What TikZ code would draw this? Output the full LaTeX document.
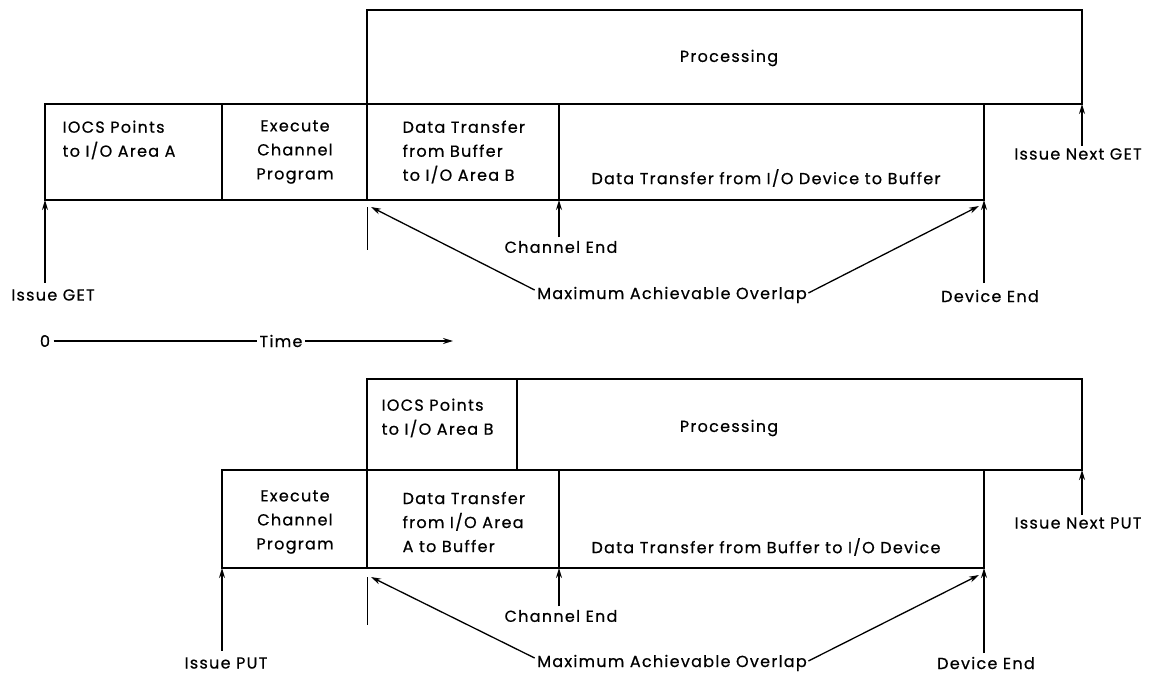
\documentclass[tikz,border=0pt]{standalone}
\usepackage{fontspec}
\setmainfont{Poppins}[LetterSpace=8,FakeBold=0.6]
\usetikzlibrary{arrows.meta,calc}
\begin{document}
\begin{tikzpicture}[x=1pt,y=-1pt,
  line width=1.3pt,
  box/.style={draw, rectangle, inner sep=0pt, outer sep=0pt, anchor=north west, minimum height=96pt},
  lbl/.style={inner sep=0pt, font=\fontsize{16}{24}\selectfont},
  arr/.style={-{Stealth[length=10pt,width=6pt]}},
  tick/.style={line width=1pt}]
\useasboundingbox (0,0) rectangle (1153,679);

% ---------------- GET ----------------
\node[box, minimum width=715pt, minimum height=94pt] (gp) at (367,10) {};
\node[box, minimum width=177pt] (g1) at (45,104) {};
\node[box, minimum width=145pt] (g2) at (222,104) {};
\node[box, minimum width=192pt] (g3) at (367,104) {};
\node[box, minimum width=425pt] (g4) at (559,104) {};

\node[lbl] (gpt) at (729,58) {Processing};
\node[lbl, align=left, anchor=west] (g1t) at (62,140) {IOCS Points\\to I/O Area A};
\node[lbl, align=center] (g2t) at (295,152) {Execute\\Channel\\Program};
\node[lbl, align=left, anchor=west] (g3t) at (402,152) {Data Transfer\\from Buffer\\to I/O Area B};
\node[lbl] (g4t) at (766,178) {Data Transfer from I/O Device to Buffer};

\node[lbl] (gnext) at (1078,154) {Issue Next GET};
\node[lbl] (gget) at (53,295) {Issue GET};
\node[lbl] (gce) at (561,247) {Channel End};
\node[lbl] (gmax) at (672,295) {Maximum Achievable Overlap};
\node[lbl] (gde) at (990,296) {Device End};

\draw[arr] ($(gnext.north -| gp.south east)+(0,-2)$) -- (gp.south east);
\draw[arr] ($(gget.north -| g1.south west)+(0,-6)$) -- (g1.south west);
\draw[arr] ($(gce.north -| g4.south west)+(0,-3)$) -- (g4.south west);
\draw[arr] ($(gde.north -| g4.south east)+(0,-6)$) -- (g4.south east);
\draw[tick] ($(g3.south west)+(0,7)$) -- ($(g3.south west)+(0,50)$);
\draw[arr] ($(gmax.west)+(-2,-5)$) -- ($(g3.south west)+(4,7)$);
\draw[arr] ($(gmax.east)+(1,-2)$) -- ($(g4.south east)+(-5,6)$);

% ---------------- time axis ----------------
\node[lbl] (t0) at (45,341) {0};
\node[lbl] (ttime) at (281,341) {Time};
\coordinate (tend) at (453,341);
\draw[line width=1.5pt] ($(t0.east)+(3,0)$) -- ($(ttime.west)+(-2,0)$);
\draw[arr, line width=1.5pt] ($(ttime.east)+(2,0)$) -- (tend);

% ---------------- PUT ----------------
\node[box, minimum width=150pt, minimum height=91pt] (pa) at (367,379) {};
\node[box, minimum width=565pt, minimum height=91pt] (pp) at (517,379) {};
\node[box, minimum width=145pt, minimum height=98pt] (p2) at (222,470) {};
\node[box, minimum width=192pt, minimum height=98pt] (p3) at (367,470) {};
\node[box, minimum width=425pt, minimum height=98pt] (p4) at (559,470) {};

\node[lbl, align=left, anchor=west] (pat) at (381,418) {IOCS Points\\to I/O Area B};
\node[lbl] (ppt) at (729,428) {Processing};
\node[lbl, align=center] (p2t) at (295,522) {Execute\\Channel\\Program};
\node[lbl, align=left, anchor=west] (p3t) at (402,522) {Data Transfer\\from I/O Area\\A to Buffer};
\node[lbl] (p4t) at (766,547) {Data Transfer from Buffer to I/O Device};

\node[lbl] (pnext) at (1078,523) {Issue Next PUT};
\node[lbl] (pput) at (226,663) {Issue PUT};
\node[lbl] (pce) at (561,616) {Channel End};
\node[lbl] (pmax) at (672,663) {Maximum Achievable Overlap};
\node[lbl] (pde) at (986,663) {Device End};

\draw[arr] ($(pnext.north -| pp.south east)+(0,-2)$) -- (pp.south east);
\draw[arr] ($(pput.north -| p2.south west)+(0,-6)$) -- (p2.south west);
\draw[arr] ($(pce.north -| p4.south west)+(0,-3)$) -- (p4.south west);
\draw[arr] ($(pde.north -| p4.south east)+(0,-3)$) -- (p4.south east);
\draw[tick] ($(p3.south west)+(0,9)$) -- ($(p3.south west)+(0,57)$);
\draw[arr] ($(pmax.west)+(-2,-5)$) -- ($(p3.south west)+(4,9)$);
\draw[arr] ($(pmax.east)+(1,-2)$) -- ($(p4.south east)+(-5,7)$);
\end{tikzpicture}
\end{document}
